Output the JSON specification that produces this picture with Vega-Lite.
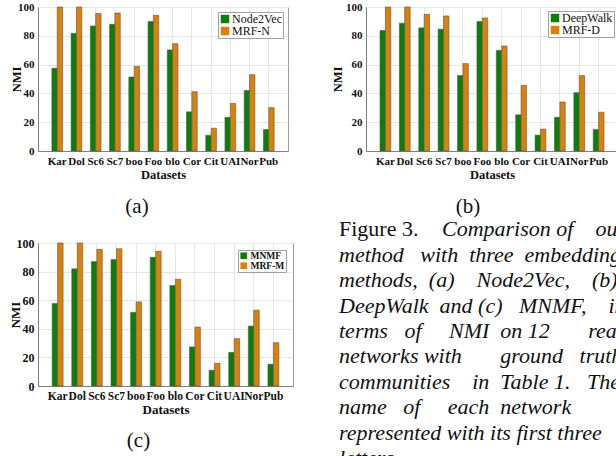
{
  "$schema": "https://vega.github.io/schema/vega-lite/v6.json",
  "padding": {"left": 8, "top": 0, "right": 0, "bottom": 0},
  "background": "white",
  "columns": 2,
  "align": "each",
  "bounds": "flush",
  "spacing": {"row": 92, "column": 73},
  "datasets": {
    "a": [
      {"dataset": "Kar", "method": "Node2Vec", "nmi": 57.5}, {"dataset": "Kar", "method": "MRF-N", "nmi": 100},
      {"dataset": "Dol", "method": "Node2Vec", "nmi": 81.7}, {"dataset": "Dol", "method": "MRF-N", "nmi": 100},
      {"dataset": "Sc6", "method": "Node2Vec", "nmi": 86.8}, {"dataset": "Sc6", "method": "MRF-N", "nmi": 95.5},
      {"dataset": "Sc7", "method": "Node2Vec", "nmi": 88.0}, {"dataset": "Sc7", "method": "MRF-N", "nmi": 95.8},
      {"dataset": "boo", "method": "Node2Vec", "nmi": 51.4}, {"dataset": "boo", "method": "MRF-N", "nmi": 58.8},
      {"dataset": "Foo", "method": "Node2Vec", "nmi": 89.9}, {"dataset": "Foo", "method": "MRF-N", "nmi": 94.2},
      {"dataset": "blo", "method": "Node2Vec", "nmi": 70.2}, {"dataset": "blo", "method": "MRF-N", "nmi": 74.5},
      {"dataset": "Cor", "method": "Node2Vec", "nmi": 27.2}, {"dataset": "Cor", "method": "MRF-N", "nmi": 41.2},
      {"dataset": "Cit", "method": "Node2Vec", "nmi": 10.9}, {"dataset": "Cit", "method": "MRF-N", "nmi": 15.8},
      {"dataset": "UAI", "method": "Node2Vec", "nmi": 23.4}, {"dataset": "UAI", "method": "MRF-N", "nmi": 33.0},
      {"dataset": "Nor", "method": "Node2Vec", "nmi": 42.0}, {"dataset": "Nor", "method": "MRF-N", "nmi": 53.0},
      {"dataset": "Pub", "method": "Node2Vec", "nmi": 14.9}, {"dataset": "Pub", "method": "MRF-N", "nmi": 30.1}
    ],
    "b": [
      {"dataset": "Kar", "method": "DeepWalk", "nmi": 83.7}, {"dataset": "Kar", "method": "MRF-D", "nmi": 100},
      {"dataset": "Dol", "method": "DeepWalk", "nmi": 88.7}, {"dataset": "Dol", "method": "MRF-D", "nmi": 100},
      {"dataset": "Sc6", "method": "DeepWalk", "nmi": 85.5}, {"dataset": "Sc6", "method": "MRF-D", "nmi": 94.9},
      {"dataset": "Sc7", "method": "DeepWalk", "nmi": 84.6}, {"dataset": "Sc7", "method": "MRF-D", "nmi": 93.8},
      {"dataset": "boo", "method": "DeepWalk", "nmi": 52.4}, {"dataset": "boo", "method": "MRF-D", "nmi": 60.7},
      {"dataset": "Foo", "method": "DeepWalk", "nmi": 89.9}, {"dataset": "Foo", "method": "MRF-D", "nmi": 92.4},
      {"dataset": "blo", "method": "DeepWalk", "nmi": 69.9}, {"dataset": "blo", "method": "MRF-D", "nmi": 72.9},
      {"dataset": "Cor", "method": "DeepWalk", "nmi": 25.1}, {"dataset": "Cor", "method": "MRF-D", "nmi": 45.5},
      {"dataset": "Cit", "method": "DeepWalk", "nmi": 11.0}, {"dataset": "Cit", "method": "MRF-D", "nmi": 15.2},
      {"dataset": "UAI", "method": "DeepWalk", "nmi": 23.4}, {"dataset": "UAI", "method": "MRF-D", "nmi": 34.0},
      {"dataset": "Nor", "method": "DeepWalk", "nmi": 40.5}, {"dataset": "Nor", "method": "MRF-D", "nmi": 52.4},
      {"dataset": "Pub", "method": "DeepWalk", "nmi": 14.9}, {"dataset": "Pub", "method": "MRF-D", "nmi": 26.9}
    ],
    "c": [
      {"dataset": "Kar", "method": "MNMF", "nmi": 57.7}, {"dataset": "Kar", "method": "MRF-M", "nmi": 100},
      {"dataset": "Dol", "method": "MNMF", "nmi": 81.9}, {"dataset": "Dol", "method": "MRF-M", "nmi": 100},
      {"dataset": "Sc6", "method": "MNMF", "nmi": 87.0}, {"dataset": "Sc6", "method": "MRF-M", "nmi": 95.6},
      {"dataset": "Sc7", "method": "MNMF", "nmi": 88.4}, {"dataset": "Sc7", "method": "MRF-M", "nmi": 96.0},
      {"dataset": "boo", "method": "MNMF", "nmi": 51.5}, {"dataset": "boo", "method": "MRF-M", "nmi": 58.8},
      {"dataset": "Foo", "method": "MNMF", "nmi": 90.0}, {"dataset": "Foo", "method": "MRF-M", "nmi": 94.2},
      {"dataset": "blo", "method": "MNMF", "nmi": 70.3}, {"dataset": "blo", "method": "MRF-M", "nmi": 74.6},
      {"dataset": "Cor", "method": "MNMF", "nmi": 27.3}, {"dataset": "Cor", "method": "MRF-M", "nmi": 41.2},
      {"dataset": "Cit", "method": "MNMF", "nmi": 11.0}, {"dataset": "Cit", "method": "MRF-M", "nmi": 15.9},
      {"dataset": "UAI", "method": "MNMF", "nmi": 23.5}, {"dataset": "UAI", "method": "MRF-M", "nmi": 33.1},
      {"dataset": "Nor", "method": "MNMF", "nmi": 41.9}, {"dataset": "Nor", "method": "MRF-M", "nmi": 53.0},
      {"dataset": "Pub", "method": "MNMF", "nmi": 15.2}, {"dataset": "Pub", "method": "MRF-M", "nmi": 30.3}
    ],
    "caption": [
      {"line": 1, "kind": "label", "text": "Figure 3."},
      {"line": 1, "kind": "lead", "text": "Comparison of\u00a0\u00a0\u00a0 our"},
      {"line": 2, "kind": "body", "text": "method\u00a0\u00a0 with\u00a0 three\u00a0 embedding"},
      {"line": 3, "kind": "body", "text": "methods,\u00a0 (a)\u00a0\u00a0\u00a0 Node2Vec,\u00a0\u00a0\u00a0 (b)"},
      {"line": 4, "kind": "body", "text": "DeepWalk\u00a0 and (c)\u00a0\u00a0 MNMF,\u00a0\u00a0\u00a0 in"},
      {"line": 5, "kind": "body", "text": "terms\u00a0\u00a0 of\u00a0\u00a0\u00a0\u00a0 NMI\u00a0 on 12\u00a0\u00a0\u00a0\u00a0\u00a0\u00a0 real"},
      {"line": 6, "kind": "body", "text": "networks with\u00a0\u00a0\u00a0\u00a0\u00a0\u00a0 ground\u00a0\u00a0 truth"},
      {"line": 7, "kind": "body", "text": "communities\u00a0\u00a0\u00a0 in\u00a0 Table 1.\u00a0\u00a0 The"},
      {"line": 8, "kind": "body", "text": "name\u00a0\u00a0 of\u00a0\u00a0\u00a0\u00a0 each\u00a0 network\u00a0\u00a0\u00a0\u00a0\u00a0\u00a0\u00a0\u00a0 is"},
      {"line": 9, "kind": "body", "text": "represented with its first three"},
      {"line": 10, "kind": "body", "text": "letters."}
    ]
  },
  "config": {
    "font": "Liberation Serif",
    "view": {"stroke": "#9a9a9a", "strokeWidth": 1},
    "axis": {
      "labelFont": "Liberation Serif",
      "labelFontWeight": "bold",
      "labelFontSize": 11,
      "labelColor": "#111",
      "titleFont": "Liberation Serif",
      "titleFontWeight": "bold",
      "titleFontSize": 12.5,
      "titleColor": "#111",
      "domainColor": "#808080",
      "gridColor": "#e6e6e6",
      "ticks": false,
      "labelPadding": 4
    },
    "legend": {
      "labelFont": "Liberation Serif",
      "labelColor": "#111"
    },
    "title": {"font": "Liberation Serif", "fontSize": 21, "fontWeight": "normal", "color": "#111"}
  },
  "resolve": {"scale": {"color": "independent", "xOffset": "independent", "x": "independent", "y": "independent"}, "legend": {"color": "independent"}},
  "concat": [
    {
      "width": 250, "height": 144,
      "title": {"text": "(a)", "orient": "bottom", "anchor": "middle", "frame": "group", "dx": -26, "offset": 15},
      "data": {"name": "a"},
      "mark": {"type": "bar", "stroke": "#555", "strokeWidth": 0.6},
      "encoding": {
        "x": {"field": "dataset", "type": "nominal", "sort": null, "title": "Datasets",
              "scale": {"paddingInner": 0, "paddingOuter": 0.5},
              "axis": {"labelAngle": 0, "grid": true, "bandPosition": 0.5, "labelOverlap": false, "titlePadding": 2}},
        "xOffset": {"field": "method", "type": "nominal", "sort": ["Node2Vec", "MRF-N"], "scale": {"paddingInner": 0, "paddingOuter": 0.8}},
        "y": {"field": "nmi", "type": "quantitative", "title": "NMI",
              "scale": {"domain": [0, 100], "nice": false},
              "axis": {"values": [0, 20, 40, 60, 80, 100], "grid": true, "titlePadding": -6}},
        "color": {"field": "method", "type": "nominal",
                  "scale": {"domain": ["Node2Vec", "MRF-N"], "range": ["#0a800a", "#dc800a"]},
                  "legend": {"orient": "top-right", "offset": 5, "title": null, "strokeColor": "#a0a0a0", "fillColor": "white", "padding": 1, "symbolType": "square", "symbolSize": 72, "symbolStrokeWidth": 0, "labelFontSize": 12, "labelFontWeight": "normal", "rowPadding": -3, "labelOffset": 1}}
      }
    },
    {
      "width": 252, "height": 144,
      "title": {"text": "(b)", "orient": "bottom", "anchor": "middle", "frame": "group", "dx": -24, "offset": 15},
      "data": {"name": "b"},
      "mark": {"type": "bar", "stroke": "#555", "strokeWidth": 0.6},
      "encoding": {
        "x": {"field": "dataset", "type": "nominal", "sort": null, "title": "Datasets",
              "scale": {"paddingInner": 0, "paddingOuter": 0.5},
              "axis": {"labelAngle": 0, "grid": true, "bandPosition": 0.5, "labelOverlap": false, "titlePadding": 2}},
        "xOffset": {"field": "method", "type": "nominal", "sort": ["DeepWalk", "MRF-D"], "scale": {"paddingInner": 0, "paddingOuter": 0.8}},
        "y": {"field": "nmi", "type": "quantitative", "title": "NMI",
              "scale": {"domain": [0, 100], "nice": false},
              "axis": {"values": [0, 20, 40, 60, 80, 100], "grid": true, "titlePadding": 1}},
        "color": {"field": "method", "type": "nominal",
                  "scale": {"domain": ["DeepWalk", "MRF-D"], "range": ["#0a800a", "#dc800a"]},
                  "legend": {"orient": "top-right", "offset": 4, "title": null, "strokeColor": "#a0a0a0", "fillColor": "white", "padding": 1, "symbolType": "square", "symbolSize": 72, "symbolStrokeWidth": 0, "labelFontSize": 12, "labelFontWeight": "normal", "rowPadding": -3, "labelOffset": 1}}
      }
    },
    {
      "width": 255, "height": 143,
      "title": {"text": "(c)", "orient": "bottom", "anchor": "middle", "frame": "group", "dx": -27, "offset": 13},
      "data": {"name": "c"},
      "mark": {"type": "bar", "stroke": "#555", "strokeWidth": 0.6},
      "encoding": {
        "x": {"field": "dataset", "type": "nominal", "sort": null, "title": "Datasets",
              "scale": {"paddingInner": 0, "paddingOuter": 0.5},
              "axis": {"labelAngle": 0, "grid": true, "bandPosition": 0.5, "labelOverlap": false, "titlePadding": 2, "labelFontSize": 11.5, "titleFontSize": 13}},
        "xOffset": {"field": "method", "type": "nominal", "sort": ["MNMF", "MRF-M"], "scale": {"paddingInner": 0, "paddingOuter": 0.8}},
        "y": {"field": "nmi", "type": "quantitative", "title": "NMI",
              "scale": {"domain": [0, 100], "nice": false},
              "axis": {"values": [0, 20, 40, 60, 80, 100], "grid": true, "titlePadding": -6, "labelFontSize": 12, "titleFontSize": 13}},
        "color": {"field": "method", "type": "nominal",
                  "scale": {"domain": ["MNMF", "MRF-M"], "range": ["#0a800a", "#dc800a"]},
                  "legend": {"orient": "top-right", "offset": 7, "title": null, "strokeColor": "#a0a0a0", "fillColor": "white", "padding": 1, "symbolType": "square", "symbolSize": 45, "symbolStrokeWidth": 0, "labelFontSize": 9.5, "labelFontWeight": "bold", "rowPadding": -3, "labelOffset": 2}}
      }
    },
    {
      "width": 250, "height": 143,
      "view": {"stroke": null},
      "data": {"name": "caption"},
      "encoding": {
        "x": {"datum": 0, "type": "quantitative", "scale": {"domain": [0, 1]}, "axis": null},
        "y": {"field": "line", "type": "quantitative", "axis": null,
              "scale": {"domain": [1.256, 6.886], "reverse": true, "zero": false, "nice": false}},
        "text": {"field": "text"}
      },
      "layer": [
        {"transform": [{"filter": "datum.kind === 'label'"}],
         "mark": {"type": "text", "align": "left", "baseline": "alphabetic", "fontSize": 22, "font": "Liberation Serif", "color": "#111", "dx": -27}},
        {"transform": [{"filter": "datum.kind === 'lead'"}],
         "mark": {"type": "text", "align": "left", "baseline": "alphabetic", "fontSize": 22, "font": "Liberation Serif", "fontStyle": "italic", "color": "#111", "dx": 76}},
        {"transform": [{"filter": "datum.kind === 'body'"}],
         "mark": {"type": "text", "align": "left", "baseline": "alphabetic", "fontSize": 22, "font": "Liberation Serif", "fontStyle": "italic", "color": "#111", "dx": -27}}
      ]
    }
  ]
}
